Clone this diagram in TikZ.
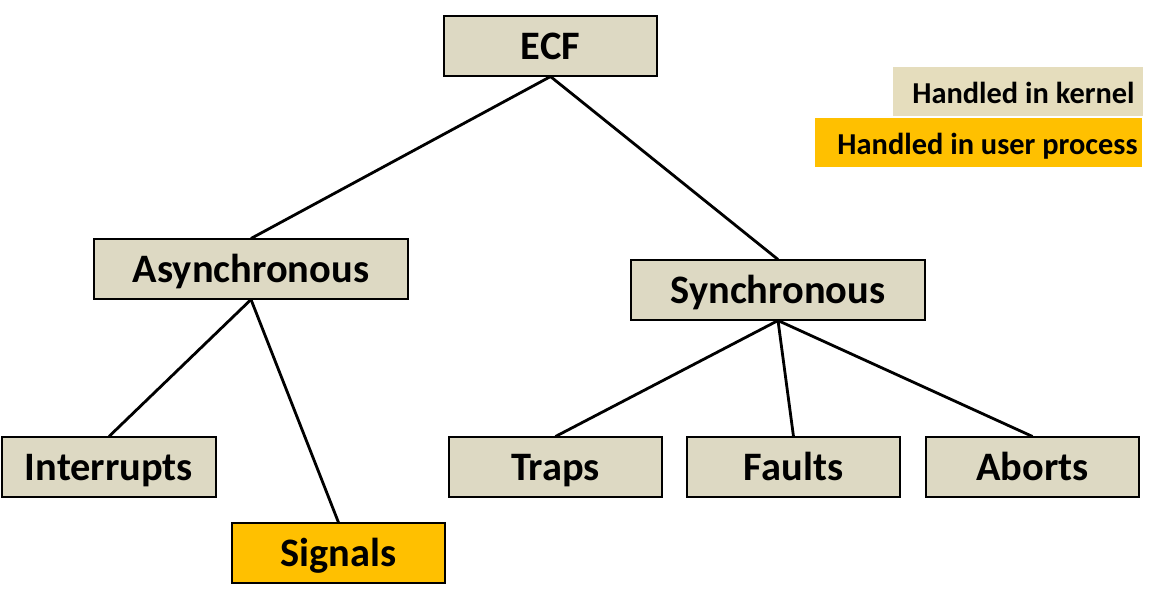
\documentclass[tikz,border=0pt]{standalone}
\usepackage{fontspec}
\setmainfont{Carlito}
\definecolor{beige}{HTML}{DDD9C3}
\definecolor{legbeige}{HTML}{E5DDBD}
\definecolor{gold}{HTML}{FFC000}
\begin{document}
\begin{tikzpicture}[x=0.02cm,y=-0.02cm,
  box/.style={draw=black,line width=0.6pt,fill=beige,minimum height=60*0.02cm,inner sep=0pt,text height=14.8pt,text depth=0pt,font=\fontsize{23}{27}\selectfont\bfseries},
  userbox/.style={box,fill=gold},
  leg/.style={fill=#1,minimum height=49*0.02cm,inner sep=0pt},
  legtext/.style={anchor=east,inner sep=0pt,text height=11.2pt,text depth=0pt,font=\fontsize{17.3}{20}\selectfont\bfseries},
  link/.style={line width=1.6pt}]
\useasboundingbox (0,0) rectangle (1166,600);
\node[box,minimum width=213*0.02cm] (ecf) at (550.5,46) {ECF};
\node[box,minimum width=314*0.02cm] (async) at (251,269) {Asynchronous};
\node[box,minimum width=294*0.02cm] (sync) at (778,290) {Synchronous};
\node[box,minimum width=214*0.02cm] (intr) at (109,467) {Interrupts};
\node[userbox,minimum width=213*0.02cm] (sig) at (338.5,553) {Signals};
\node[box,minimum width=213*0.02cm] (traps) at (555.5,467) {Traps};
\node[box,minimum width=213*0.02cm] (faults) at (793.5,467) {Faults};
\node[box,minimum width=213*0.02cm] (aborts) at (1032.5,467) {Aborts};
\node[leg=legbeige,minimum width=250*0.02cm] (lk) at (1018,91.5) {};
\node[legtext] (lkt) at (1135,94) {Handled in kernel};
\node[leg=gold,minimum width=327*0.02cm] (lu) at (978.5,142.5) {};
\node[legtext] (lut) at (1138,145) {Handled in user process};
\draw[link] (ecf.south) -- (async.north);
\draw[link] (ecf.south) -- (sync.north);
\draw[link] (async.south) -- (intr.north);
\draw[link] (async.south) -- (sig.north);
\draw[link] (sync.south) -- (traps.north);
\draw[link] (sync.south) -- (faults.north);
\draw[link] (sync.south) -- (aborts.north);
\end{tikzpicture}
\end{document}
